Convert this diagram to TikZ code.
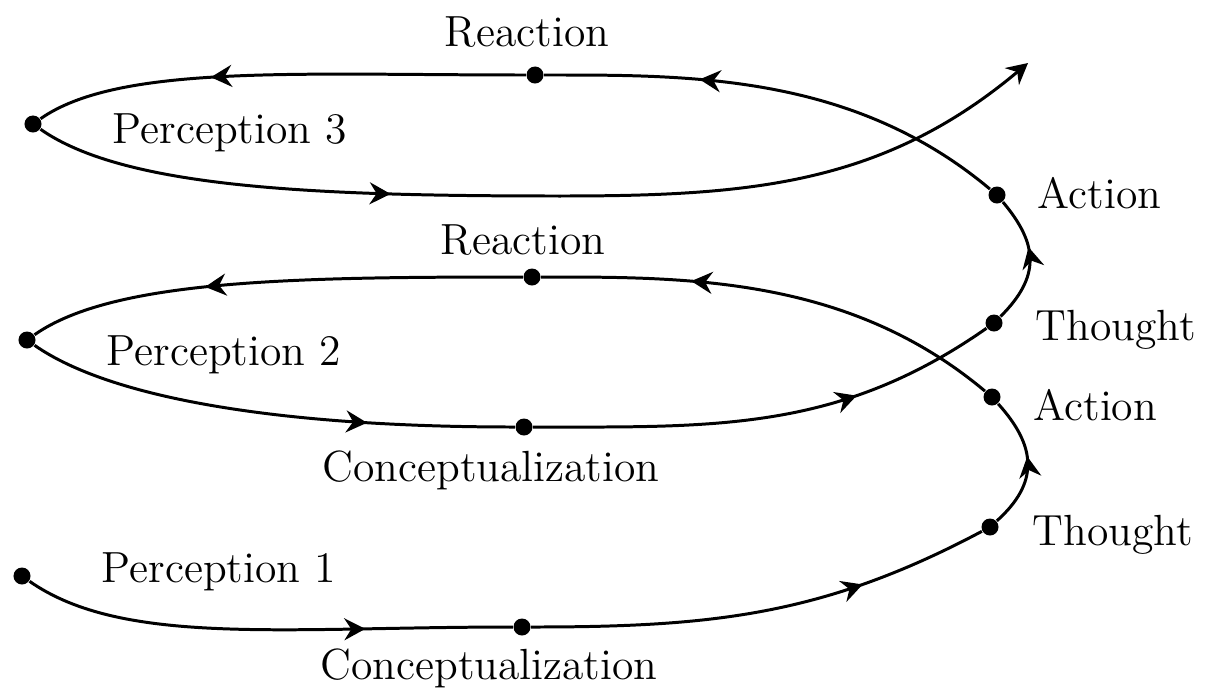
\documentclass[tikz,border=0pt]{standalone}
\usepackage{tikz}
\usetikzlibrary{arrows.meta,positioning,decorations.markings}

\tikzset{
  event/.style={circle,fill,inner sep=0pt,minimum size=0.17cm},
  flow/.style={line width=0.85pt},
  mid arrow/.style={postaction={decorate,decoration={markings,
      mark=at position #1 with {\arrow{Stealth[length=0.21cm,width=0.22cm,inset=0.07cm]}}}}},
  stage/.style={font=\fontsize{12.4}{15}\selectfont,inner sep=0pt},
}

\begin{document}
\begin{tikzpicture}[x=0.01cm,y=0.01cm]
\useasboundingbox (0,0) rectangle (1213,696);

% Events on the spiral
\node[event] (p1) at (22,120) {};
\node[event] (c1) at (522,69) {};
\node[event] (t1) at (990,169) {};
\node[event] (a1) at (992,299) {};
\node[event] (r2) at (532,419) {};
\node[event] (p2) at (27,356) {};
\node[event] (c2) at (524,269) {};
\node[event] (t2) at (994,373) {};
\node[event] (a2) at (997,501) {};
\node[event] (r3) at (535,621) {};
\node[event] (p3) at (33,572) {};
\coordinate (low3) at (560,500);
\coordinate (exit) at (1028,633);

% Labels
\node[stage] (lr3) at (527,664) {Reaction};
\node[stage] (lp3) at (230,563) {Perception 3};
\node[stage,anchor=west] (la2) at (1037,503) {Action};
\node[stage] (lr2) at (523,456) {Reaction};
\node[stage] (lp2) at (224,341) {Perception 2};
\node[stage,anchor=west] (lt2) at (1035,366) {Thought};
\node[stage,anchor=west] (la1) at (1033,291) {Action};
\node[stage] (lc2) at (491,226) {Conceptualization};
\node[stage,anchor=west] (lt1) at (1032,161) {Thought};
\node[stage] (lp1) at (219,124) {Perception 1};
\node[stage] (lc1) at (489,28) {Conceptualization};

% First turn
\draw[flow,mid arrow=0.7] (p1) to[out=-35,in=180,out looseness=0.6,in looseness=1.2] (c1);
\draw[flow,mid arrow=0.72] (c1) to[out=0,in=208] (t1);
\draw[flow,mid arrow=0.55] (t1) to[out=42,in=-48,looseness=1.25] (a1);
\draw[flow,mid arrow=0.68] (a1) to[out=140,in=0,in looseness=0.8] (r2);
\draw[flow,mid arrow=0.64] (r2) to[out=180,in=35,out looseness=1.2,in looseness=0.5] (p2);

% Second turn
\draw[flow,mid arrow=0.7] (p2) to[out=-35,in=180,out looseness=0.5,in looseness=1.2] (c2);
\draw[flow,mid arrow=0.69] (c2) to[out=0,in=215] (t2);
\draw[flow,mid arrow=0.6] (t2) to[out=45,in=-50,looseness=1.25] (a2);
\draw[flow,mid arrow=0.67] (a2) to[out=140,in=0,in looseness=0.8] (r3);
\draw[flow,mid arrow=0.64] (r3) to[out=180,in=35,out looseness=1.2,in looseness=0.5] (p3);

% Way out
\draw[flow,mid arrow=0.68] (p3) to[out=-35,in=180,out looseness=0.5,in looseness=1.2] (low3);
\draw[flow,-{Stealth[length=0.21cm,width=0.22cm,inset=0.07cm]}] (low3) to[out=0,in=220] (exit);
\end{tikzpicture}
\end{document}
